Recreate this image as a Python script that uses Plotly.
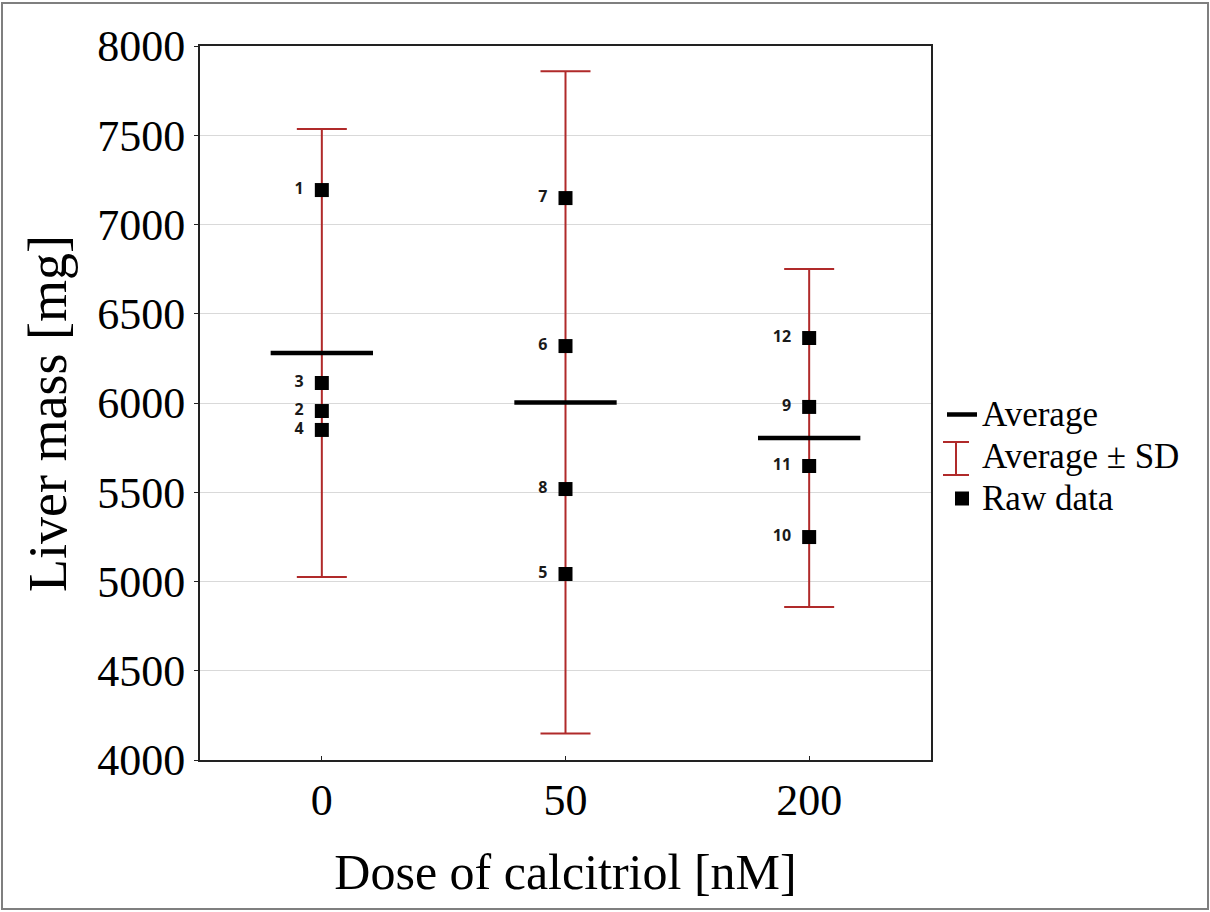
import plotly.graph_objects as go

doses = ["0", "50", "200"]
group_means = [6280, 6003, 5804]
group_sd = [1255, 1855, 947]

point_ids = ["1", "2", "3", "4", "5", "6", "7", "8", "9", "10", "11", "12"]
point_group = [0, 0, 0, 0, 1, 1, 1, 1, 2, 2, 2, 2]
point_values = [7193, 5955, 6112, 5849, 5042, 6319, 7148, 5518, 5978, 5249, 5647, 6364]

yticks = [4000, 4500, 5000, 5500, 6000, 6500, 7000, 7500, 8000]

SERIF = "Liberation Serif, Times New Roman, serif"
RED = "#b02a2a"
half = 0.21

# page geometry (px)
L, R, T, B = 200, 279, 46, 152
W, H = 1210, 912
pw, ph = W - L - R, H - T - B


def px_x(p):
    return (p - L) / pw


def px_y(p):
    return (H - B - p) / ph


def big(s):
    return '<span style="font-size:35px">' + s + '</span>'


fig = go.Figure()

# error bars (Average ± SD)
fig.add_trace(go.Scatter(
    x=list(range(len(doses))), y=group_means, mode="markers",
    marker=dict(size=0.1, color="rgba(0,0,0,0)"),
    error_y=dict(type="data", array=group_sd, visible=True, color=RED, thickness=2, width=25),
    name=big("Average ± SD"), legendrank=2, hoverinfo="skip",
))

# mean lines
mx, my = [], []
for i, m in enumerate(group_means):
    mx += [i - half, i + half, None]
    my += [m, m, None]
fig.add_trace(go.Scatter(
    x=mx, y=my, mode="lines", line=dict(color="black", width=4.5),
    name=big("Average"), legendrank=1,
))

# raw data
fig.add_trace(go.Scatter(
    x=point_group, y=point_values, mode="markers+text",
    marker=dict(symbol="square", size=14, color="black"),
    text=[pid + "\u00a0\u00a0" for pid in point_ids], textposition="middle left",
    textfont=dict(family="Open Sans, Liberation Sans, sans-serif", size=16, color="#1a1a1a", weight="bold"),
    name=big("Raw data"), legendrank=3,
))

# outer figure border
fig.add_shape(type="rect", xref="paper", yref="paper",
              x0=px_x(2), x1=px_x(1208), y0=px_y(909), y1=px_y(3),
              line=dict(color="#7f7f7f", width=2), layer="below")

# legend symbol for the error bar entry (I-beam)
cx, cy, hw, hh = 956, 458.5, 13, 16.5
path = "M{a},{t} H{b} M{c},{t} V{u} M{a},{u} H{b}".format(
    a=px_x(cx - hw), b=px_x(cx + hw), c=px_x(cx), t=px_y(cy - hh), u=px_y(cy + hh))
fig.add_shape(type="path", xref="paper", yref="paper", path=path,
              line=dict(color=RED, width=2))

# y-axis title
fig.add_annotation(text="Liver mass [mg]", textangle=-90, showarrow=False,
                   xref="paper", yref="paper", x=px_x(48), y=px_y(414),
                   xanchor="center", yanchor="middle",
                   font=dict(family=SERIF, size=54, color="black"))

fig.update_layout(
    width=W, height=H,
    margin=dict(l=L, r=R, t=T, b=B),
    paper_bgcolor="white", plot_bgcolor="white",
    font=dict(family=SERIF, color="black"),
    showlegend=True,
    legend=dict(x=px_x(942), xanchor="left", y=0.4251, yanchor="middle",
                font=dict(family=SERIF, size=30, color="black"),
                bgcolor="rgba(0,0,0,0)", itemwidth=30, tracegroupgap=0),
    xaxis=dict(
        range=[-0.5, 2.5], tickmode="array", tickvals=list(range(len(doses))), ticktext=doses,
        showgrid=False, zeroline=False,
        showline=True, linecolor="#222", linewidth=2, mirror=True,
        ticks="inside", ticklen=4, tickcolor="#222",
        tickfont=dict(family=SERIF, size=44),
        title=dict(text="Dose of calcitriol [nM]", font=dict(family=SERIF, size=50), standoff=30),
    ),
    yaxis=dict(
        range=[4000, 8000], tickmode="array", tickvals=yticks,
        showgrid=True, gridcolor="#d9d9d9", gridwidth=1, zeroline=False,
        showline=True, linecolor="#222", linewidth=2, mirror=True,
        ticks="outside", ticklen=4, tickcolor="#222",
        tickfont=dict(family=SERIF, size=44),
    ),
)

fig.write_html("out.html", config={"displayModeBar": False},
               post_script="document.body.style.margin='0';document.body.style.overflow='hidden';")
